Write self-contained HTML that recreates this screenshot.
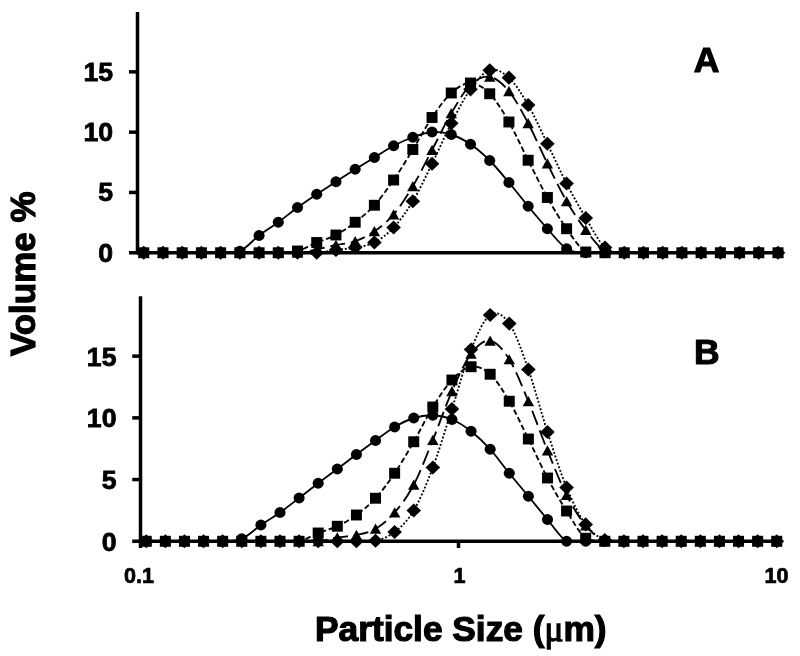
<!DOCTYPE html>
<html lang="en"><head><meta charset="utf-8"><title>Particle size distribution</title>
<style>html,body{margin:0;padding:0;background:#fff}svg{display:block;filter:blur(0.45px)}</style></head>
<body>
<svg width="800" height="656" viewBox="0 0 800 656" font-family="'Liberation Sans', Arial, sans-serif" font-weight="bold" fill="#000">
<rect width="800" height="656" fill="#fff"/>
<g stroke="#000" stroke-width="3.5" fill="none">
<path d="M137.5,12V254.5"/>
<path d="M129,252.75H778.0"/>
<path d="M129,192.45H137.5"/>
<path d="M129,132.15H137.5"/>
<path d="M129,71.85H137.5"/>
</g>
<path d="M143.75,252.75C146.95,252.75 156.56,252.75 162.97,252.75C169.38,252.75 175.78,252.75 182.19,252.75C188.60,252.75 195.00,252.75 201.41,252.75C207.82,252.75 214.22,252.75 220.63,252.75C227.04,252.50 233.44,252.75 239.85,251.25C246.26,248.38 252.66,240.33 259.07,235.50C265.48,230.67 271.88,226.92 278.29,222.25C284.70,217.58 291.10,212.17 297.51,207.50C303.92,202.83 310.32,198.54 316.73,194.25C323.14,189.96 329.54,185.92 335.95,181.75C342.36,177.58 348.76,173.29 355.17,169.25C361.58,165.21 367.98,161.42 374.39,157.50C380.80,153.58 387.20,149.12 393.61,145.75C400.02,142.38 406.42,139.54 412.83,137.25C419.24,134.96 425.64,132.46 432.05,132.00C438.46,131.54 444.86,132.46 451.27,134.50C457.68,136.54 464.08,139.92 470.49,144.25C476.90,148.58 483.30,154.12 489.71,160.50C496.12,166.88 502.52,174.88 508.93,182.50C515.34,190.12 521.74,198.54 528.15,206.25C534.56,213.96 540.96,221.68 547.37,228.75C553.78,235.82 560.18,244.70 566.59,248.70C573.00,252.70 579.40,252.07 585.81,252.75C592.22,252.75 598.62,252.75 605.03,252.75C611.44,252.75 617.84,252.75 624.25,252.75C630.66,252.75 637.06,252.75 643.47,252.75C649.88,252.75 656.28,252.75 662.69,252.75C669.10,252.75 675.50,252.75 681.91,252.75C688.32,252.75 694.72,252.75 701.13,252.75C707.54,252.75 713.94,252.75 720.35,252.75C726.76,252.75 733.16,252.75 739.57,252.75C745.98,252.75 752.38,252.75 758.79,252.75C765.20,252.75 774.81,252.75 778.01,252.75" fill="none" stroke="#000" stroke-width="1.85"/>
<g fill="#000"><ellipse cx="143.75" cy="252.75" rx="5.55" ry="5.4"/><ellipse cx="162.97" cy="252.75" rx="5.55" ry="5.4"/><ellipse cx="182.19" cy="252.75" rx="5.55" ry="5.4"/><ellipse cx="201.41" cy="252.75" rx="5.55" ry="5.4"/><ellipse cx="220.63" cy="252.75" rx="5.55" ry="5.4"/><ellipse cx="239.85" cy="251.25" rx="5.55" ry="5.4"/><ellipse cx="259.07" cy="235.50" rx="5.55" ry="5.4"/><ellipse cx="278.29" cy="222.25" rx="5.55" ry="5.4"/><ellipse cx="297.51" cy="207.50" rx="5.55" ry="5.4"/><ellipse cx="316.73" cy="194.25" rx="5.55" ry="5.4"/><ellipse cx="335.95" cy="181.75" rx="5.55" ry="5.4"/><ellipse cx="355.17" cy="169.25" rx="5.55" ry="5.4"/><ellipse cx="374.39" cy="157.50" rx="5.55" ry="5.4"/><ellipse cx="393.61" cy="145.75" rx="5.55" ry="5.4"/><ellipse cx="412.83" cy="137.25" rx="5.55" ry="5.4"/><ellipse cx="432.05" cy="132.00" rx="5.55" ry="5.4"/><ellipse cx="451.27" cy="134.50" rx="5.55" ry="5.4"/><ellipse cx="470.49" cy="144.25" rx="5.55" ry="5.4"/><ellipse cx="489.71" cy="160.50" rx="5.55" ry="5.4"/><ellipse cx="508.93" cy="182.50" rx="5.55" ry="5.4"/><ellipse cx="528.15" cy="206.25" rx="5.55" ry="5.4"/><ellipse cx="547.37" cy="228.75" rx="5.55" ry="5.4"/><ellipse cx="566.59" cy="248.70" rx="5.55" ry="5.4"/><ellipse cx="585.81" cy="252.75" rx="5.55" ry="5.4"/><ellipse cx="605.03" cy="252.75" rx="5.55" ry="5.4"/><ellipse cx="624.25" cy="252.75" rx="5.55" ry="5.4"/><ellipse cx="643.47" cy="252.75" rx="5.55" ry="5.4"/><ellipse cx="662.69" cy="252.75" rx="5.55" ry="5.4"/><ellipse cx="681.91" cy="252.75" rx="5.55" ry="5.4"/><ellipse cx="701.13" cy="252.75" rx="5.55" ry="5.4"/><ellipse cx="720.35" cy="252.75" rx="5.55" ry="5.4"/><ellipse cx="739.57" cy="252.75" rx="5.55" ry="5.4"/><ellipse cx="758.79" cy="252.75" rx="5.55" ry="5.4"/><ellipse cx="778.01" cy="252.75" rx="5.55" ry="5.4"/></g>
<path d="M143.75,252.75C146.95,252.75 156.56,252.75 162.97,252.75C169.38,252.75 175.78,252.75 182.19,252.75C188.60,252.75 195.00,252.75 201.41,252.75C207.82,252.75 214.22,252.75 220.63,252.75C227.04,252.75 233.44,252.75 239.85,252.75C246.26,252.75 252.66,252.75 259.07,252.75C265.48,252.75 271.88,252.75 278.29,252.75C284.70,252.46 291.10,252.71 297.51,251.00C303.92,249.29 310.32,245.17 316.73,242.50C323.14,239.83 329.54,238.38 335.95,235.00C342.36,231.62 348.76,227.21 355.17,222.25C361.58,217.29 367.98,212.29 374.39,205.25C380.80,198.21 387.20,189.29 393.61,180.00C400.02,170.71 406.42,159.92 412.83,149.50C419.24,139.08 425.64,126.92 432.05,117.50C438.46,108.08 444.86,98.75 451.27,93.00C457.68,87.25 464.08,82.88 470.49,83.00C476.90,83.12 483.30,87.25 489.71,93.75C496.12,100.25 502.52,110.92 508.93,122.00C515.34,133.08 521.74,147.67 528.15,160.25C534.56,172.83 540.96,186.08 547.37,197.50C553.78,208.92 560.18,219.67 566.59,228.75C573.00,237.83 579.40,248.00 585.81,252.00C592.22,252.75 598.62,252.62 605.03,252.75C611.44,252.75 617.84,252.75 624.25,252.75C630.66,252.75 637.06,252.75 643.47,252.75C649.88,252.75 656.28,252.75 662.69,252.75C669.10,252.75 675.50,252.75 681.91,252.75C688.32,252.75 694.72,252.75 701.13,252.75C707.54,252.75 713.94,252.75 720.35,252.75C726.76,252.75 733.16,252.75 739.57,252.75C745.98,252.75 752.38,252.75 758.79,252.75C765.20,252.75 774.81,252.75 778.01,252.75" fill="none" stroke="#000" stroke-width="1.85" stroke-dasharray="5.6 2.8"/>
<g fill="#000"><rect x="138.25" y="247.30" width="11" height="10.9"/><rect x="157.47" y="247.30" width="11" height="10.9"/><rect x="176.69" y="247.30" width="11" height="10.9"/><rect x="195.91" y="247.30" width="11" height="10.9"/><rect x="215.13" y="247.30" width="11" height="10.9"/><rect x="234.35" y="247.30" width="11" height="10.9"/><rect x="253.57" y="247.30" width="11" height="10.9"/><rect x="272.79" y="247.30" width="11" height="10.9"/><rect x="292.01" y="245.55" width="11" height="10.9"/><rect x="311.23" y="237.05" width="11" height="10.9"/><rect x="330.45" y="229.55" width="11" height="10.9"/><rect x="349.67" y="216.80" width="11" height="10.9"/><rect x="368.89" y="199.80" width="11" height="10.9"/><rect x="388.11" y="174.55" width="11" height="10.9"/><rect x="407.33" y="144.05" width="11" height="10.9"/><rect x="426.55" y="112.05" width="11" height="10.9"/><rect x="445.77" y="87.55" width="11" height="10.9"/><rect x="464.99" y="77.55" width="11" height="10.9"/><rect x="484.21" y="88.30" width="11" height="10.9"/><rect x="503.43" y="116.55" width="11" height="10.9"/><rect x="522.65" y="154.80" width="11" height="10.9"/><rect x="541.87" y="192.05" width="11" height="10.9"/><rect x="561.09" y="223.30" width="11" height="10.9"/><rect x="580.31" y="246.55" width="11" height="10.9"/><rect x="599.53" y="247.30" width="11" height="10.9"/><rect x="618.75" y="247.30" width="11" height="10.9"/><rect x="637.97" y="247.30" width="11" height="10.9"/><rect x="657.19" y="247.30" width="11" height="10.9"/><rect x="676.41" y="247.30" width="11" height="10.9"/><rect x="695.63" y="247.30" width="11" height="10.9"/><rect x="714.85" y="247.30" width="11" height="10.9"/><rect x="734.07" y="247.30" width="11" height="10.9"/><rect x="753.29" y="247.30" width="11" height="10.9"/><rect x="772.51" y="247.30" width="11" height="10.9"/></g>
<path d="M143.75,252.75C146.95,252.75 156.56,252.75 162.97,252.75C169.38,252.75 175.78,252.75 182.19,252.75C188.60,252.75 195.00,252.75 201.41,252.75C207.82,252.75 214.22,252.75 220.63,252.75C227.04,252.75 233.44,252.75 239.85,252.75C246.26,252.75 252.66,252.75 259.07,252.75C265.48,252.75 271.88,252.75 278.29,252.75C284.70,252.75 291.10,252.75 297.51,252.75C303.92,252.21 310.32,250.79 316.73,249.50C323.14,248.21 329.54,246.38 335.95,245.00C342.36,243.62 348.76,243.54 355.17,241.25C361.58,238.96 367.98,235.71 374.39,231.25C380.80,226.79 387.20,222.00 393.61,214.50C400.02,207.00 406.42,197.00 412.83,186.25C419.24,175.50 425.64,162.16 432.05,150.00C438.46,137.84 444.86,124.13 451.27,113.30C457.68,102.47 464.08,91.08 470.49,85.00C476.90,78.92 483.30,75.76 489.71,76.80C496.12,77.84 502.52,83.51 508.93,91.25C515.34,98.99 521.74,111.21 528.15,123.25C534.56,135.29 540.96,150.50 547.37,163.50C553.78,176.50 560.18,190.17 566.59,201.25C573.00,212.33 579.40,221.67 585.81,230.00C592.22,238.33 598.62,247.46 605.03,251.25C611.44,252.75 617.84,252.50 624.25,252.75C630.66,252.75 637.06,252.75 643.47,252.75C649.88,252.75 656.28,252.75 662.69,252.75C669.10,252.75 675.50,252.75 681.91,252.75C688.32,252.75 694.72,252.75 701.13,252.75C707.54,252.75 713.94,252.75 720.35,252.75C726.76,252.75 733.16,252.75 739.57,252.75C745.98,252.75 752.38,252.75 758.79,252.75C765.20,252.75 774.81,252.75 778.01,252.75" fill="none" stroke="#000" stroke-width="1.85" stroke-dasharray="15 5.8"/>
<g fill="#000"><path d="M143.75,247.55L149.45,257.65H138.05Z"/><path d="M162.97,247.55L168.67,257.65H157.27Z"/><path d="M182.19,247.55L187.89,257.65H176.49Z"/><path d="M201.41,247.55L207.11,257.65H195.71Z"/><path d="M220.63,247.55L226.33,257.65H214.93Z"/><path d="M239.85,247.55L245.55,257.65H234.15Z"/><path d="M259.07,247.55L264.77,257.65H253.37Z"/><path d="M278.29,247.55L283.99,257.65H272.59Z"/><path d="M297.51,247.55L303.21,257.65H291.81Z"/><path d="M316.73,244.30L322.43,254.40H311.03Z"/><path d="M335.95,239.80L341.65,249.90H330.25Z"/><path d="M355.17,236.05L360.87,246.15H349.47Z"/><path d="M374.39,226.05L380.09,236.15H368.69Z"/><path d="M393.61,209.30L399.31,219.40H387.91Z"/><path d="M412.83,181.05L418.53,191.15H407.13Z"/><path d="M432.05,144.80L437.75,154.90H426.35Z"/><path d="M451.27,108.10L456.97,118.20H445.57Z"/><path d="M470.49,79.80L476.19,89.90H464.79Z"/><path d="M489.71,71.60L495.41,81.70H484.01Z"/><path d="M508.93,86.05L514.63,96.15H503.23Z"/><path d="M528.15,118.05L533.85,128.15H522.45Z"/><path d="M547.37,158.30L553.07,168.40H541.67Z"/><path d="M566.59,196.05L572.29,206.15H560.89Z"/><path d="M585.81,224.80L591.51,234.90H580.11Z"/><path d="M605.03,246.05L610.73,256.15H599.33Z"/><path d="M624.25,247.55L629.95,257.65H618.55Z"/><path d="M643.47,247.55L649.17,257.65H637.77Z"/><path d="M662.69,247.55L668.39,257.65H656.99Z"/><path d="M681.91,247.55L687.61,257.65H676.21Z"/><path d="M701.13,247.55L706.83,257.65H695.43Z"/><path d="M720.35,247.55L726.05,257.65H714.65Z"/><path d="M739.57,247.55L745.27,257.65H733.87Z"/><path d="M758.79,247.55L764.49,257.65H753.09Z"/><path d="M778.01,247.55L783.71,257.65H772.31Z"/></g>
<path d="M143.75,252.75C146.95,252.75 156.56,252.75 162.97,252.75C169.38,252.75 175.78,252.75 182.19,252.75C188.60,252.75 195.00,252.75 201.41,252.75C207.82,252.75 214.22,252.75 220.63,252.75C227.04,252.75 233.44,252.75 239.85,252.75C246.26,252.75 252.66,252.75 259.07,252.75C265.48,252.75 271.88,252.75 278.29,252.75C284.70,252.75 291.10,252.75 297.51,252.75C303.92,252.75 310.32,252.75 316.73,252.75C323.14,252.29 329.54,250.88 335.95,250.00C342.36,249.12 348.76,248.75 355.17,247.50C361.58,246.25 367.98,245.83 374.39,242.50C380.80,239.17 387.20,234.38 393.61,227.50C400.02,220.62 406.42,211.88 412.83,201.25C419.24,190.62 425.64,176.75 432.05,163.75C438.46,150.75 444.86,135.66 451.27,123.25C457.68,110.84 464.08,98.12 470.49,89.30C476.90,80.47 483.30,72.23 489.71,70.30C496.12,68.37 502.52,71.92 508.93,77.70C515.34,83.48 521.74,93.99 528.15,105.00C534.56,116.01 540.96,130.67 547.37,143.75C553.78,156.83 560.18,171.12 566.59,183.50C573.00,195.88 579.40,207.33 585.81,218.00C592.22,228.67 598.62,241.71 605.03,247.50C611.44,252.75 617.84,251.88 624.25,252.75C630.66,252.75 637.06,252.75 643.47,252.75C649.88,252.75 656.28,252.75 662.69,252.75C669.10,252.75 675.50,252.75 681.91,252.75C688.32,252.75 694.72,252.75 701.13,252.75C707.54,252.75 713.94,252.75 720.35,252.75C726.76,252.75 733.16,252.75 739.57,252.75C745.98,252.75 752.38,252.75 758.79,252.75C765.20,252.75 774.81,252.75 778.01,252.75" fill="none" stroke="#000" stroke-width="1.85" stroke-dasharray="1.9 1.9"/>
<g fill="#000"><path d="M143.75,245.65L151.05,252.75L143.75,259.85L136.45,252.75Z"/><path d="M162.97,245.65L170.27,252.75L162.97,259.85L155.67,252.75Z"/><path d="M182.19,245.65L189.49,252.75L182.19,259.85L174.89,252.75Z"/><path d="M201.41,245.65L208.71,252.75L201.41,259.85L194.11,252.75Z"/><path d="M220.63,245.65L227.93,252.75L220.63,259.85L213.33,252.75Z"/><path d="M239.85,245.65L247.15,252.75L239.85,259.85L232.55,252.75Z"/><path d="M259.07,245.65L266.37,252.75L259.07,259.85L251.77,252.75Z"/><path d="M278.29,245.65L285.59,252.75L278.29,259.85L270.99,252.75Z"/><path d="M297.51,245.65L304.81,252.75L297.51,259.85L290.21,252.75Z"/><path d="M316.73,245.65L324.03,252.75L316.73,259.85L309.43,252.75Z"/><path d="M335.95,242.90L343.25,250.00L335.95,257.10L328.65,250.00Z"/><path d="M355.17,240.40L362.47,247.50L355.17,254.60L347.87,247.50Z"/><path d="M374.39,235.40L381.69,242.50L374.39,249.60L367.09,242.50Z"/><path d="M393.61,220.40L400.91,227.50L393.61,234.60L386.31,227.50Z"/><path d="M412.83,194.15L420.13,201.25L412.83,208.35L405.53,201.25Z"/><path d="M432.05,156.65L439.35,163.75L432.05,170.85L424.75,163.75Z"/><path d="M451.27,116.15L458.57,123.25L451.27,130.35L443.97,123.25Z"/><path d="M470.49,82.20L477.79,89.30L470.49,96.40L463.19,89.30Z"/><path d="M489.71,63.20L497.01,70.30L489.71,77.40L482.41,70.30Z"/><path d="M508.93,70.60L516.23,77.70L508.93,84.80L501.63,77.70Z"/><path d="M528.15,97.90L535.45,105.00L528.15,112.10L520.85,105.00Z"/><path d="M547.37,136.65L554.67,143.75L547.37,150.85L540.07,143.75Z"/><path d="M566.59,176.40L573.89,183.50L566.59,190.60L559.29,183.50Z"/><path d="M585.81,210.90L593.11,218.00L585.81,225.10L578.51,218.00Z"/><path d="M605.03,240.40L612.33,247.50L605.03,254.60L597.73,247.50Z"/><path d="M624.25,245.65L631.55,252.75L624.25,259.85L616.95,252.75Z"/><path d="M643.47,245.65L650.77,252.75L643.47,259.85L636.17,252.75Z"/><path d="M662.69,245.65L669.99,252.75L662.69,259.85L655.39,252.75Z"/><path d="M681.91,245.65L689.21,252.75L681.91,259.85L674.61,252.75Z"/><path d="M701.13,245.65L708.43,252.75L701.13,259.85L693.83,252.75Z"/><path d="M720.35,245.65L727.65,252.75L720.35,259.85L713.05,252.75Z"/><path d="M739.57,245.65L746.87,252.75L739.57,259.85L732.27,252.75Z"/><path d="M758.79,245.65L766.09,252.75L758.79,259.85L751.49,252.75Z"/><path d="M778.01,245.65L785.31,252.75L778.01,259.85L770.71,252.75Z"/></g>
<g stroke="#000" stroke-width="3.5" fill="none">
<path d="M140.5,296.25V548.0"/>
<path d="M132.25,541.25H776.75"/>
<path d="M132.25,479.55H140.5"/>
<path d="M132.25,417.85H140.5"/>
<path d="M132.25,356.15H140.5"/>
<path d="M458.5,541.25V548.0"/>
</g>
<path d="M146.25,541.25C149.43,541.25 158.99,541.25 165.36,541.25C171.72,541.25 178.09,541.25 184.46,541.25C190.83,541.25 197.20,541.25 203.57,541.25C209.94,541.25 216.31,541.25 222.67,541.25C229.04,540.83 235.41,541.25 241.78,538.75C248.15,536.04 254.52,529.38 260.89,525.00C267.25,520.62 273.62,517.00 279.99,512.50C286.36,508.00 292.73,502.88 299.10,498.00C305.47,493.12 311.84,488.08 318.20,483.25C324.57,478.42 330.94,473.79 337.31,469.00C343.68,464.21 350.05,459.25 356.42,454.50C362.78,449.75 369.15,445.08 375.52,440.50C381.89,435.92 388.26,430.75 394.63,427.00C401.00,423.25 407.37,419.96 413.73,418.00C420.10,416.04 426.47,415.00 432.84,415.25C439.21,415.50 445.58,416.83 451.95,419.50C458.31,422.17 464.68,426.29 471.05,431.25C477.42,436.21 483.79,442.25 490.16,449.25C496.53,456.25 502.90,465.42 509.26,473.25C515.63,481.08 522.00,488.54 528.37,496.25C534.74,503.96 541.11,512.00 547.48,519.50C553.84,527.00 560.21,537.62 566.58,541.25C572.95,541.25 579.32,541.25 585.69,541.25C592.06,541.25 598.43,541.25 604.79,541.25C611.16,541.25 617.53,541.25 623.90,541.25C630.27,541.25 636.64,541.25 643.01,541.25C649.37,541.25 655.74,541.25 662.11,541.25C668.48,541.25 674.85,541.25 681.22,541.25C687.59,541.25 693.96,541.25 700.32,541.25C706.69,541.25 713.06,541.25 719.43,541.25C725.80,541.25 732.17,541.25 738.54,541.25C744.90,541.25 751.27,541.25 757.64,541.25C764.01,541.25 773.56,541.25 776.75,541.25" fill="none" stroke="#000" stroke-width="1.85"/>
<g fill="#000"><ellipse cx="146.25" cy="541.25" rx="5.55" ry="5.4"/><ellipse cx="165.36" cy="541.25" rx="5.55" ry="5.4"/><ellipse cx="184.46" cy="541.25" rx="5.55" ry="5.4"/><ellipse cx="203.57" cy="541.25" rx="5.55" ry="5.4"/><ellipse cx="222.67" cy="541.25" rx="5.55" ry="5.4"/><ellipse cx="241.78" cy="538.75" rx="5.55" ry="5.4"/><ellipse cx="260.89" cy="525.00" rx="5.55" ry="5.4"/><ellipse cx="279.99" cy="512.50" rx="5.55" ry="5.4"/><ellipse cx="299.10" cy="498.00" rx="5.55" ry="5.4"/><ellipse cx="318.20" cy="483.25" rx="5.55" ry="5.4"/><ellipse cx="337.31" cy="469.00" rx="5.55" ry="5.4"/><ellipse cx="356.42" cy="454.50" rx="5.55" ry="5.4"/><ellipse cx="375.52" cy="440.50" rx="5.55" ry="5.4"/><ellipse cx="394.63" cy="427.00" rx="5.55" ry="5.4"/><ellipse cx="413.73" cy="418.00" rx="5.55" ry="5.4"/><ellipse cx="432.84" cy="415.25" rx="5.55" ry="5.4"/><ellipse cx="451.95" cy="419.50" rx="5.55" ry="5.4"/><ellipse cx="471.05" cy="431.25" rx="5.55" ry="5.4"/><ellipse cx="490.16" cy="449.25" rx="5.55" ry="5.4"/><ellipse cx="509.26" cy="473.25" rx="5.55" ry="5.4"/><ellipse cx="528.37" cy="496.25" rx="5.55" ry="5.4"/><ellipse cx="547.48" cy="519.50" rx="5.55" ry="5.4"/><ellipse cx="566.58" cy="541.25" rx="5.55" ry="5.4"/><ellipse cx="585.69" cy="541.25" rx="5.55" ry="5.4"/><ellipse cx="604.79" cy="541.25" rx="5.55" ry="5.4"/><ellipse cx="623.90" cy="541.25" rx="5.55" ry="5.4"/><ellipse cx="643.01" cy="541.25" rx="5.55" ry="5.4"/><ellipse cx="662.11" cy="541.25" rx="5.55" ry="5.4"/><ellipse cx="681.22" cy="541.25" rx="5.55" ry="5.4"/><ellipse cx="700.32" cy="541.25" rx="5.55" ry="5.4"/><ellipse cx="719.43" cy="541.25" rx="5.55" ry="5.4"/><ellipse cx="738.54" cy="541.25" rx="5.55" ry="5.4"/><ellipse cx="757.64" cy="541.25" rx="5.55" ry="5.4"/><ellipse cx="776.75" cy="541.25" rx="5.55" ry="5.4"/></g>
<path d="M146.25,541.25C149.43,541.25 158.99,541.25 165.36,541.25C171.72,541.25 178.09,541.25 184.46,541.25C190.83,541.25 197.20,541.25 203.57,541.25C209.94,541.25 216.31,541.25 222.67,541.25C229.04,541.25 235.41,541.25 241.78,541.25C248.15,541.25 254.52,541.25 260.89,541.25C267.25,541.25 273.62,541.25 279.99,541.25C286.36,541.25 292.73,541.25 299.10,541.25C305.47,539.88 311.84,535.50 318.20,533.00C324.57,530.50 330.94,529.25 337.31,526.25C343.68,523.25 350.05,519.67 356.42,515.00C362.78,510.33 369.15,505.21 375.52,498.25C381.89,491.29 388.26,482.67 394.63,473.25C401.00,463.83 407.37,452.79 413.73,441.75C420.10,430.71 426.47,417.29 432.84,407.00C439.21,396.71 445.58,386.71 451.95,380.00C458.31,373.29 464.68,367.71 471.05,366.75C477.42,365.79 483.79,368.50 490.16,374.25C496.53,380.00 502.90,390.46 509.26,401.25C515.63,412.04 522.00,426.21 528.37,439.00C534.74,451.79 541.11,466.00 547.48,478.00C553.84,490.00 560.21,500.96 566.58,511.00C572.95,521.04 579.32,533.21 585.69,538.25C592.06,541.25 598.43,540.75 604.79,541.25C611.16,541.25 617.53,541.25 623.90,541.25C630.27,541.25 636.64,541.25 643.01,541.25C649.37,541.25 655.74,541.25 662.11,541.25C668.48,541.25 674.85,541.25 681.22,541.25C687.59,541.25 693.96,541.25 700.32,541.25C706.69,541.25 713.06,541.25 719.43,541.25C725.80,541.25 732.17,541.25 738.54,541.25C744.90,541.25 751.27,541.25 757.64,541.25C764.01,541.25 773.56,541.25 776.75,541.25" fill="none" stroke="#000" stroke-width="1.85" stroke-dasharray="5.6 2.8"/>
<g fill="#000"><rect x="140.75" y="535.80" width="11" height="10.9"/><rect x="159.86" y="535.80" width="11" height="10.9"/><rect x="178.96" y="535.80" width="11" height="10.9"/><rect x="198.07" y="535.80" width="11" height="10.9"/><rect x="217.17" y="535.80" width="11" height="10.9"/><rect x="236.28" y="535.80" width="11" height="10.9"/><rect x="255.39" y="535.80" width="11" height="10.9"/><rect x="274.49" y="535.80" width="11" height="10.9"/><rect x="293.60" y="535.80" width="11" height="10.9"/><rect x="312.70" y="527.55" width="11" height="10.9"/><rect x="331.81" y="520.80" width="11" height="10.9"/><rect x="350.92" y="509.55" width="11" height="10.9"/><rect x="370.02" y="492.80" width="11" height="10.9"/><rect x="389.13" y="467.80" width="11" height="10.9"/><rect x="408.23" y="436.30" width="11" height="10.9"/><rect x="427.34" y="401.55" width="11" height="10.9"/><rect x="446.45" y="374.55" width="11" height="10.9"/><rect x="465.55" y="361.30" width="11" height="10.9"/><rect x="484.66" y="368.80" width="11" height="10.9"/><rect x="503.76" y="395.80" width="11" height="10.9"/><rect x="522.87" y="433.55" width="11" height="10.9"/><rect x="541.98" y="472.55" width="11" height="10.9"/><rect x="561.08" y="505.55" width="11" height="10.9"/><rect x="580.19" y="532.80" width="11" height="10.9"/><rect x="599.29" y="535.80" width="11" height="10.9"/><rect x="618.40" y="535.80" width="11" height="10.9"/><rect x="637.51" y="535.80" width="11" height="10.9"/><rect x="656.61" y="535.80" width="11" height="10.9"/><rect x="675.72" y="535.80" width="11" height="10.9"/><rect x="694.82" y="535.80" width="11" height="10.9"/><rect x="713.93" y="535.80" width="11" height="10.9"/><rect x="733.04" y="535.80" width="11" height="10.9"/><rect x="752.14" y="535.80" width="11" height="10.9"/><rect x="771.25" y="535.80" width="11" height="10.9"/></g>
<path d="M146.25,541.25C149.43,541.25 158.99,541.25 165.36,541.25C171.72,541.25 178.09,541.25 184.46,541.25C190.83,541.25 197.20,541.25 203.57,541.25C209.94,541.25 216.31,541.25 222.67,541.25C229.04,541.25 235.41,541.25 241.78,541.25C248.15,541.25 254.52,541.25 260.89,541.25C267.25,541.25 273.62,541.25 279.99,541.25C286.36,541.25 292.73,541.25 299.10,541.25C305.47,541.25 311.84,541.25 318.20,541.25C324.57,540.62 330.94,538.54 337.31,537.50C343.68,536.46 350.05,536.46 356.42,535.00C362.78,533.54 369.15,532.50 375.52,528.75C381.89,525.00 388.26,519.83 394.63,512.50C401.00,505.17 407.37,496.83 413.73,484.75C420.10,472.67 426.47,455.58 432.84,440.00C439.21,424.42 445.58,405.62 451.95,391.25C458.31,376.88 464.68,362.17 471.05,353.75C477.42,345.33 483.79,339.81 490.16,340.75C496.53,341.69 502.90,349.32 509.26,359.40C515.63,369.48 522.00,386.07 528.37,401.25C534.74,416.43 541.11,434.88 547.48,450.50C553.84,466.12 560.21,482.48 566.58,495.00C572.95,507.52 579.32,517.89 585.69,525.60C592.06,533.31 598.43,538.64 604.79,541.25C611.16,541.25 617.53,541.25 623.90,541.25C630.27,541.25 636.64,541.25 643.01,541.25C649.37,541.25 655.74,541.25 662.11,541.25C668.48,541.25 674.85,541.25 681.22,541.25C687.59,541.25 693.96,541.25 700.32,541.25C706.69,541.25 713.06,541.25 719.43,541.25C725.80,541.25 732.17,541.25 738.54,541.25C744.90,541.25 751.27,541.25 757.64,541.25C764.01,541.25 773.56,541.25 776.75,541.25" fill="none" stroke="#000" stroke-width="1.85" stroke-dasharray="15 5.8"/>
<g fill="#000"><path d="M146.25,536.05L151.95,546.15H140.55Z"/><path d="M165.36,536.05L171.06,546.15H159.66Z"/><path d="M184.46,536.05L190.16,546.15H178.76Z"/><path d="M203.57,536.05L209.27,546.15H197.87Z"/><path d="M222.67,536.05L228.37,546.15H216.97Z"/><path d="M241.78,536.05L247.48,546.15H236.08Z"/><path d="M260.89,536.05L266.59,546.15H255.19Z"/><path d="M279.99,536.05L285.69,546.15H274.29Z"/><path d="M299.10,536.05L304.80,546.15H293.40Z"/><path d="M318.20,536.05L323.90,546.15H312.50Z"/><path d="M337.31,532.30L343.01,542.40H331.61Z"/><path d="M356.42,529.80L362.12,539.90H350.72Z"/><path d="M375.52,523.55L381.22,533.65H369.82Z"/><path d="M394.63,507.30L400.33,517.40H388.93Z"/><path d="M413.73,479.55L419.43,489.65H408.03Z"/><path d="M432.84,434.80L438.54,444.90H427.14Z"/><path d="M451.95,386.05L457.65,396.15H446.25Z"/><path d="M471.05,348.55L476.75,358.65H465.35Z"/><path d="M490.16,335.55L495.86,345.65H484.46Z"/><path d="M509.26,354.20L514.96,364.30H503.56Z"/><path d="M528.37,396.05L534.07,406.15H522.67Z"/><path d="M547.48,445.30L553.18,455.40H541.78Z"/><path d="M566.58,489.80L572.28,499.90H560.88Z"/><path d="M585.69,520.40L591.39,530.50H579.99Z"/><path d="M604.79,536.05L610.49,546.15H599.09Z"/><path d="M623.90,536.05L629.60,546.15H618.20Z"/><path d="M643.01,536.05L648.71,546.15H637.31Z"/><path d="M662.11,536.05L667.81,546.15H656.41Z"/><path d="M681.22,536.05L686.92,546.15H675.52Z"/><path d="M700.32,536.05L706.02,546.15H694.62Z"/><path d="M719.43,536.05L725.13,546.15H713.73Z"/><path d="M738.54,536.05L744.24,546.15H732.84Z"/><path d="M757.64,536.05L763.34,546.15H751.94Z"/><path d="M776.75,536.05L782.45,546.15H771.05Z"/></g>
<path d="M146.25,541.25C149.43,541.25 158.99,541.25 165.36,541.25C171.72,541.25 178.09,541.25 184.46,541.25C190.83,541.25 197.20,541.25 203.57,541.25C209.94,541.25 216.31,541.25 222.67,541.25C229.04,541.25 235.41,541.25 241.78,541.25C248.15,541.25 254.52,541.25 260.89,541.25C267.25,541.25 273.62,541.25 279.99,541.25C286.36,541.25 292.73,541.25 299.10,541.25C305.47,541.25 311.84,541.25 318.20,541.25C324.57,541.25 330.94,541.25 337.31,541.25C343.68,541.25 350.05,541.25 356.42,541.25C362.78,541.17 369.15,541.25 375.52,540.75C381.89,539.21 388.26,537.04 394.63,532.00C401.00,526.96 407.37,521.25 413.73,510.50C420.10,499.75 426.47,484.42 432.84,467.50C439.21,450.58 445.58,428.67 451.95,409.00C458.31,389.33 464.68,365.17 471.05,349.50C477.42,333.83 483.79,319.32 490.16,315.00C496.53,310.68 502.90,314.52 509.26,323.60C515.63,332.68 522.00,351.43 528.37,369.50C534.74,387.57 541.11,412.33 547.48,432.00C553.84,451.67 560.21,472.10 566.58,487.50C572.95,502.90 579.32,515.65 585.69,524.40C592.06,533.15 598.43,537.19 604.79,540.00C611.16,541.25 617.53,541.04 623.90,541.25C630.27,541.25 636.64,541.25 643.01,541.25C649.37,541.25 655.74,541.25 662.11,541.25C668.48,541.25 674.85,541.25 681.22,541.25C687.59,541.25 693.96,541.25 700.32,541.25C706.69,541.25 713.06,541.25 719.43,541.25C725.80,541.25 732.17,541.25 738.54,541.25C744.90,541.25 751.27,541.25 757.64,541.25C764.01,541.25 773.56,541.25 776.75,541.25" fill="none" stroke="#000" stroke-width="1.85" stroke-dasharray="1.9 1.9"/>
<g fill="#000"><path d="M146.25,534.15L153.55,541.25L146.25,548.35L138.95,541.25Z"/><path d="M165.36,534.15L172.66,541.25L165.36,548.35L158.06,541.25Z"/><path d="M184.46,534.15L191.76,541.25L184.46,548.35L177.16,541.25Z"/><path d="M203.57,534.15L210.87,541.25L203.57,548.35L196.27,541.25Z"/><path d="M222.67,534.15L229.97,541.25L222.67,548.35L215.37,541.25Z"/><path d="M241.78,534.15L249.08,541.25L241.78,548.35L234.48,541.25Z"/><path d="M260.89,534.15L268.19,541.25L260.89,548.35L253.59,541.25Z"/><path d="M279.99,534.15L287.29,541.25L279.99,548.35L272.69,541.25Z"/><path d="M299.10,534.15L306.40,541.25L299.10,548.35L291.80,541.25Z"/><path d="M318.20,534.15L325.50,541.25L318.20,548.35L310.90,541.25Z"/><path d="M337.31,534.15L344.61,541.25L337.31,548.35L330.01,541.25Z"/><path d="M356.42,534.15L363.72,541.25L356.42,548.35L349.12,541.25Z"/><path d="M375.52,533.65L382.82,540.75L375.52,547.85L368.22,540.75Z"/><path d="M394.63,524.90L401.93,532.00L394.63,539.10L387.33,532.00Z"/><path d="M413.73,503.40L421.03,510.50L413.73,517.60L406.43,510.50Z"/><path d="M432.84,460.40L440.14,467.50L432.84,474.60L425.54,467.50Z"/><path d="M451.95,401.90L459.25,409.00L451.95,416.10L444.65,409.00Z"/><path d="M471.05,342.40L478.35,349.50L471.05,356.60L463.75,349.50Z"/><path d="M490.16,307.90L497.46,315.00L490.16,322.10L482.86,315.00Z"/><path d="M509.26,316.50L516.56,323.60L509.26,330.70L501.96,323.60Z"/><path d="M528.37,362.40L535.67,369.50L528.37,376.60L521.07,369.50Z"/><path d="M547.48,424.90L554.78,432.00L547.48,439.10L540.18,432.00Z"/><path d="M566.58,480.40L573.88,487.50L566.58,494.60L559.28,487.50Z"/><path d="M585.69,517.30L592.99,524.40L585.69,531.50L578.39,524.40Z"/><path d="M604.79,532.90L612.09,540.00L604.79,547.10L597.49,540.00Z"/><path d="M623.90,534.15L631.20,541.25L623.90,548.35L616.60,541.25Z"/><path d="M643.01,534.15L650.31,541.25L643.01,548.35L635.71,541.25Z"/><path d="M662.11,534.15L669.41,541.25L662.11,548.35L654.81,541.25Z"/><path d="M681.22,534.15L688.52,541.25L681.22,548.35L673.92,541.25Z"/><path d="M700.32,534.15L707.62,541.25L700.32,548.35L693.02,541.25Z"/><path d="M719.43,534.15L726.73,541.25L719.43,548.35L712.13,541.25Z"/><path d="M738.54,534.15L745.84,541.25L738.54,548.35L731.24,541.25Z"/><path d="M757.64,534.15L764.94,541.25L757.64,548.35L750.34,541.25Z"/><path d="M776.75,534.15L784.05,541.25L776.75,548.35L769.45,541.25Z"/></g>
<text x="113.2" y="80.5" font-size="26.67" stroke="#000" stroke-width="0.8" text-anchor="end">15</text>
<text x="113.2" y="141" font-size="26.67" stroke="#000" stroke-width="0.8" text-anchor="end">10</text>
<text x="113.2" y="201.3" font-size="26.67" stroke="#000" stroke-width="0.8" text-anchor="end">5</text>
<text x="113.2" y="261.5" font-size="26.67" stroke="#000" stroke-width="0.8" text-anchor="end">0</text>
<text x="116.5" y="365.7" font-size="26.67" stroke="#000" stroke-width="0.8" text-anchor="end">15</text>
<text x="116.5" y="427" font-size="26.67" stroke="#000" stroke-width="0.8" text-anchor="end">10</text>
<text x="116.5" y="488.7" font-size="26.67" stroke="#000" stroke-width="0.8" text-anchor="end">5</text>
<text x="116.5" y="550.5" font-size="26.67" stroke="#000" stroke-width="0.8" text-anchor="end">0</text>
<text x="139.0" y="583.3" font-size="21.6" stroke="#000" stroke-width="0.7" text-anchor="middle">0.1</text>
<text x="459.5" y="583.3" font-size="21.6" stroke="#000" stroke-width="0.7" text-anchor="middle">1</text>
<text x="776.4" y="583.3" font-size="21.6" stroke="#000" stroke-width="0.7" text-anchor="middle">10</text>
<text x="693.7" y="71.9" font-size="35.6" stroke="#000" stroke-width="1.1">A</text>
<text x="693.9" y="364.2" font-size="35.6" stroke="#000" stroke-width="1.1">B</text>
<text transform="translate(35.3,273.7) rotate(-90)" font-size="35" stroke="#000" stroke-width="1.2" text-anchor="middle">Volume %</text>
<text x="460.8" y="641" font-size="35.3" stroke="#000" stroke-width="1.2" text-anchor="middle">Particle Size (<tspan font-weight="normal" stroke-width="1.3" font-family="'Liberation Serif', 'DejaVu Serif', serif">μ</tspan>m)</text>
</svg>
</body></html>
